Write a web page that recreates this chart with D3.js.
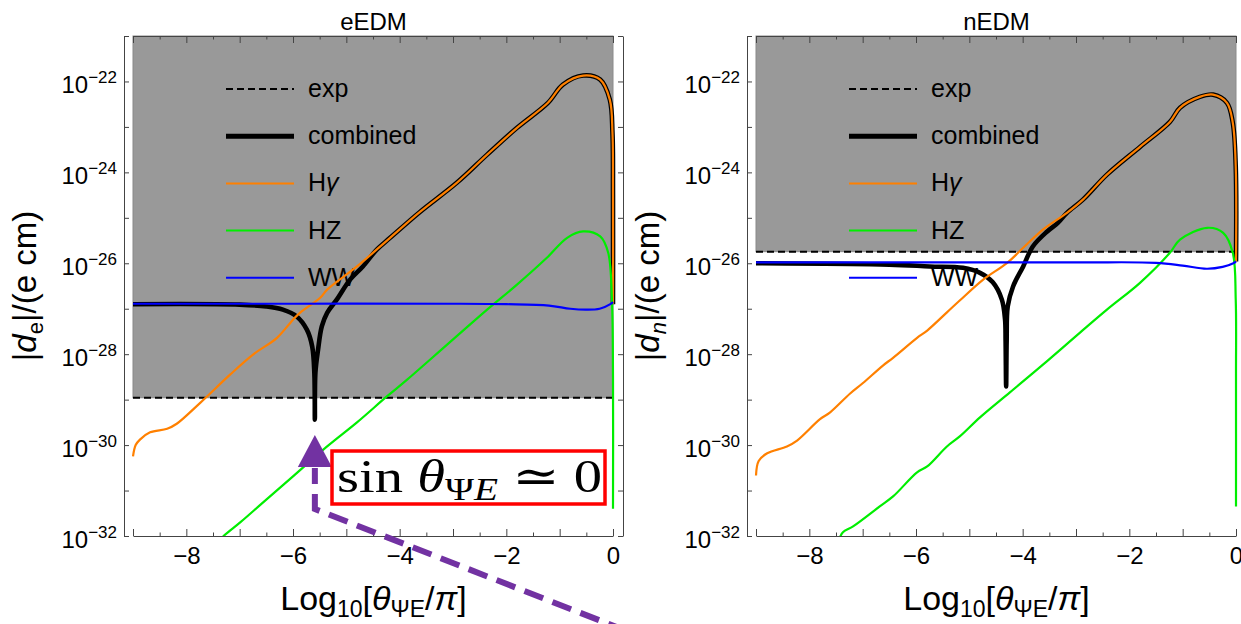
<!DOCTYPE html>
<html>
<head>
<meta charset="utf-8">
<script src="https://cdn.jsdelivr.net/npm/d3@7"></script>
<style>
  body { margin: 0; background: #fff; }
  text { font-family: "Liberation Sans", Arial, sans-serif; fill: #000; }
  .axis path, .axis line { stroke: #444; }
</style>
</head>
<body>
<div id="chart"></div>
<script>
// every point is [log10(theta/pi), log10(|d| / e cm)]

// ---- eEDM panel ----
const eExp = 1.1e-29;
const eHg = [[-9,-30.25],[-8.95,-30.0],[-8.87,-29.88],[-8.68,-29.72],[-8.36,-29.64],[-8.18,-29.53],
  [-7.74,-29.07],[-7.18,-28.45],[-6.75,-28.01],[-6.3,-27.64],[-6.0,-27.24],[-5.87,-27.09],[-5.49,-26.76],
  [-5.36,-26.58],[-4.8,-26.07],[-4.18,-25.44],[-3.62,-24.87],[-2.93,-24.23],[-2.36,-23.61],[-1.8,-23.02],
  [-1.22,-22.47],[-0.94,-22.07],[-0.56,-21.87],[-0.24,-21.96],[-0.06,-22.4],[-0.01,-23.13],[0,-24.5],[0,-26.9]];
const eHZ = [[-7.4,-32.15],[-7.31,-32.01],[-6.99,-31.7],[-6.56,-31.26],[-6.0,-30.69],[-5.36,-30.03],
  [-4.8,-29.5],[-4.24,-28.93],[-3.86,-28.56],[-3.11,-27.79],[-2.36,-27.02],[-1.8,-26.47],[-1.24,-25.88],
  [-0.86,-25.44],[-0.56,-25.3],[-0.24,-25.41],[-0.09,-25.77],[-0.02,-26.8],[0,-28.5],[0,-31.4]];
const eWW = [[-9,-26.89],[-6,-26.89],[-3,-26.89],[-2,-26.9],[-1.2,-26.93],[-0.8,-27.0],[-0.5,-27.02],
  [-0.25,-27.0],[-0.05,-26.9],[0,-26.85]];
const eCombLow = [[-9,-26.9],[-7,-26.91],[-6.5,-26.95],[-6.19,-27.02],[-5.93,-27.17],[-5.74,-27.46],
  [-5.64,-27.83],[-5.6,-28.41],[-5.59,-29.44],[-5.58,-28.41],[-5.53,-27.9],[-5.46,-27.39],[-5.36,-27.09],
  [-5.18,-26.8],[-4.93,-26.36],[-4.69,-26.07],[-4.43,-25.7]];

// ---- nEDM panel ----
const nExp = 1.8e-26;
const nHg = [[-9,-30.67],[-8.95,-30.35],[-8.79,-30.18],[-8.42,-30.03],[-8.23,-29.9],[-7.8,-29.43],
  [-7.61,-29.28],[-7.24,-28.87],[-7.0,-28.64],[-6.62,-28.25],[-6.43,-28.08],[-5.98,-27.64],[-5.79,-27.48],
  [-5.42,-27.08],[-5.18,-26.82],[-4.74,-26.36],[-4.29,-25.99],[-3.99,-25.66],[-3.62,-25.26],[-3.17,-24.89],
  [-2.87,-24.6],[-2.42,-24.05],[-1.8,-23.44],[-1.24,-22.89],[-1.05,-22.58],[-0.68,-22.34],[-0.43,-22.29],
  [-0.17,-22.47],[-0.06,-22.91],[-0.005,-23.87],[0,-25.96]];
const nHZ = [[-7.45,-32.1],[-7.37,-31.92],[-7.18,-31.79],[-6.68,-31.35],[-6.43,-31.13],[-5.98,-30.6],
  [-5.79,-30.47],[-5.42,-30.03],[-5.18,-29.81],[-4.8,-29.39],[-4.24,-28.84],[-3.62,-28.23],[-2.93,-27.53],
  [-2.42,-27.02],[-1.8,-26.43],[-1.24,-25.77],[-1.05,-25.48],[-0.54,-25.22],[-0.24,-25.33],[-0.06,-25.77],
  [-0.005,-26.8],[0,-28.5],[0,-31.35]];
const nWW = [[-9,-25.98],[-3,-25.98],[-1.5,-25.99],[-1.0,-26.05],[-0.55,-26.12],[-0.25,-26.08],
  [-0.05,-26.0],[0,-25.96]];
const nCombLow = [[-9,-26.0],[-6.5,-26.03],[-5.74,-26.07],[-5.12,-26.1],[-4.8,-26.21],[-4.56,-26.42],
  [-4.39,-26.8],[-4.33,-27.24],[-4.32,-27.7],[-4.31,-28.71],[-4.3,-27.7],[-4.28,-26.95],[-4.18,-26.51],
  [-3.99,-26.07],[-3.81,-25.63],[-3.54,-25.3],[-3.34,-25.11]];

// combined follows H-gamma once it dominates
const eComb = eCombLow.concat(eHg.filter(d => d[0] > -4.3));
const nComb = nCombLow.concat(nHg.filter(d => d[0] > -3.3));

const xLabelTicks = [-8, -6, -4, -2, 0];
const yLabelExps = [-22, -24, -26, -28, -30, -32];
const legendNames = ["exp", "combined", "H", "HZ", "WW"];

const W = 1241, H = 624;
const top_ = 36, bottom_ = 536, frameW = 499;

const svg = d3.select("#chart").append("svg")
    .attr("width", W).attr("height", H);

function drawPanel(ox, title, sub, subItalic, expVal, comb, hg, hz, ww) {
    let x = d3.scaleLinear().domain([-9, 0]).range([ox + 9, ox + 489]);
    let y = d3.scaleLog().domain([1e-32, 1e-21]).range([bottom_, top_]);
    let g = svg.append("g");

    let clipId = "clip" + ox;
    svg.append("clipPath").attr("id", clipId)
        .append("rect").attr("x", ox).attr("y", top_)
        .attr("width", frameW).attr("height", bottom_ - top_);

    // excluded region above the experimental bound
    g.append("rect")
        .attr("x", x(-9)).attr("y", top_)
        .attr("width", x(0) - x(-9)).attr("height", y(expVal) - top_)
        .attr("fill", "#999").attr("stroke", "#8a8a8a")

    g.append("line")
        .attr("x1", x(-9)).attr("x2", x(0))
        .attr("y1", y(expVal)).attr("y2", y(expVal))
        .attr("stroke", "#000").attr("stroke-width", 2)
        .attr("stroke-dasharray", "7,4")

    // legend
    let styles = [
        {c: "#000", w: 2, dash: "7,4"},
        {c: "#000", w: 5, dash: null},
        {c: "#ff8000", w: 2, dash: null},
        {c: "#00ee00", w: 2, dash: null},
        {c: "#0000ff", w: 2, dash: null}
    ];
    legendNames.forEach((name, i) => {
        let ly = 89 + i * 47.2;
        g.append("line")
            .attr("x1", ox + 102).attr("x2", ox + 170)
            .attr("y1", ly).attr("y2", ly)
            .attr("stroke", styles[i].c).attr("stroke-width", styles[i].w)
            .attr("stroke-dasharray", styles[i].dash)
        let t = g.append("text")
            .attr("x", ox + 184).attr("y", ly + 8)
            .attr("font-size", 25)
            .text(name)
        if (i == 2) t.append("tspan").attr("font-style", "italic").text("γ")
    })

    // curves
    let line = d3.line()
        .x(d => x(d[0]))
        .y(d => y(Math.pow(10, d[1])))
        .curve(d3.curveCatmullRom.alpha(0.5))
    let curves = g.append("g").attr("clip-path", `url(#${clipId})`)
                  .attr("fill", "none").attr("stroke-linejoin", "round")
    curves.append("path").datum(comb).attr("d", line)
        .attr("stroke", "#000").attr("stroke-width", 4.6)
    curves.append("path").datum(hg).attr("d", line)
        .attr("stroke", "#ff8000").attr("stroke-width", 2.2)
    curves.append("path").datum(hz).attr("d", line)
        .attr("stroke", "#00ee00").attr("stroke-width", 2.2)
    curves.append("path").datum(ww).attr("d", line)
        .attr("stroke", "#0000ff").attr("stroke-width", 2.2)

    // frame and ticks
    let fmt = d => d == 0 ? "0" : "−" + Math.abs(d)
    let bottomAxis = g.append("g").attr("class", "axis")
        .attr("transform", `translate(0,${bottom_})`)
        .call(d3.axisBottom(x).tickValues(d3.range(-9, 0.5, 1)).tickSize(-7).tickSizeOuter(0)
              .tickPadding(11).tickFormat(d => xLabelTicks.includes(d) ? fmt(d) : ""))
    bottomAxis.selectAll("text").attr("font-size", 24).attr("font-family", null)
    g.append("g").attr("class", "axis")
        .attr("transform", `translate(0,${bottom_})`)
        .call(d3.axisBottom(x).tickValues(d3.range(-8.5, 0, 1)).tickSize(-3.5).tickSizeOuter(0).tickFormat(""))
        .select(".domain").remove()
    g.append("g").attr("class", "axis")
        .attr("transform", `translate(0,${top_})`)
        .call(d3.axisTop(x).tickValues(d3.range(-9, 0.5, 1)).tickSize(-7).tickSizeOuter(0).tickFormat(""))
    g.append("g").attr("class", "axis")
        .attr("transform", `translate(0,${top_})`)
        .call(d3.axisTop(x).tickValues(d3.range(-8.5, 0, 1)).tickSize(-3.5).tickSizeOuter(0).tickFormat(""))
        .select(".domain").remove()

    let decades = d3.range(-32, -20).map(e => Math.pow(10, e))
    g.append("g").attr("class", "axis")
        .attr("transform", `translate(${ox},0)`)
        .call(d3.axisLeft(y).tickValues(decades).tickSize(-5).tickSizeOuter(0).tickFormat(""))
    g.append("g").attr("class", "axis")
        .attr("transform", `translate(${ox + frameW},0)`)
        .call(d3.axisRight(y).tickValues(decades).tickSize(-5).tickSizeOuter(0).tickFormat(""))

    yLabelExps.forEach(e => {
        let t = g.append("text")
            .attr("x", ox - 7).attr("y", y(Math.pow(10, e)) + 11.5)
            .attr("text-anchor", "end").attr("font-size", 24)
        t.append("tspan").text("10")
        t.append("tspan").attr("font-size", 17).attr("dy", -10).text("−" + Math.abs(e))
    })

    // titles and axis labels
    g.append("text")
        .attr("x", ox + frameW / 2).attr("y", 30)
        .attr("text-anchor", "middle").attr("font-size", 24)
        .text(title)

    let xl = g.append("text")
        .attr("x", ox + frameW / 2).attr("y", 610)
        .attr("text-anchor", "middle").attr("font-size", 34)
    xl.append("tspan").text("Log")
    xl.append("tspan").attr("font-size", 23).attr("dy", 7).text("10")
    xl.append("tspan").attr("dy", -7).text("[")
    xl.append("tspan").attr("font-style", "italic").text("θ")
    xl.append("tspan").attr("font-size", 23).attr("dy", 7).text("ΨE")
    xl.append("tspan").attr("dy", -7).text("/")
    xl.append("tspan").attr("font-style", "italic").text("π")
    xl.append("tspan").text("]")

    let yl = g.append("text")
        .attr("transform", `translate(${ox - 88},286) rotate(-90)`)
        .attr("text-anchor", "middle").attr("font-size", 33)
    yl.append("tspan").text("|")
    yl.append("tspan").attr("font-style", "italic").text("d")
    yl.append("tspan").attr("font-size", 22).attr("dy", 7)
        .attr("font-style", subItalic ? "italic" : null).text(sub)
    yl.append("tspan").attr("dy", -7).text("|/(e cm)")

    return {x: x, y: y}
}

let left = drawPanel(124, "eEDM", "e", false, eExp, eComb, eHg, eHZ, eWW);
drawPanel(747, "nEDM", "n", true, nExp, nComb, nHg, nHZ, nWW);

// annotation: arrow to the cancellation dip and the label box
let tipX = left.x(-5.59);
let purple = "#7232a2";
svg.append("path")
    .attr("d", `M${tipX + 340},${642} L${tipX},${509} L${tipX},${468}`)
    .attr("fill", "none").attr("stroke", purple)
    .attr("stroke-width", 6).attr("stroke-dasharray", "20,10")
svg.append("path")
    .attr("d", `M${tipX},435 L${tipX + 17},467 L${tipX - 17},467 Z`)
    .attr("fill", purple)

svg.append("rect")
    .attr("x", 332).attr("y", 451).attr("width", 273).attr("height", 53)
    .attr("fill", "#fff").attr("stroke", "#ff0000").attr("stroke-width", 3.5)
let ann = svg.append("text")
    .attr("x", 337).attr("y", 492)
    .attr("font-size", 46)
    .attr("textLength", 265).attr("lengthAdjust", "spacingAndGlyphs")
    .style("font-family", '"Liberation Serif", "DejaVu Serif", serif')
ann.append("tspan").text("sin ")
ann.append("tspan").attr("font-style", "italic").text("θ")
ann.append("tspan").attr("font-size", 32).attr("dy", 8).text("Ψ")
ann.append("tspan").attr("font-size", 32).attr("font-style", "italic").text("E")
ann.append("tspan").attr("dy", -8).text(" ≃ 0")
</script>
</body>
</html>
